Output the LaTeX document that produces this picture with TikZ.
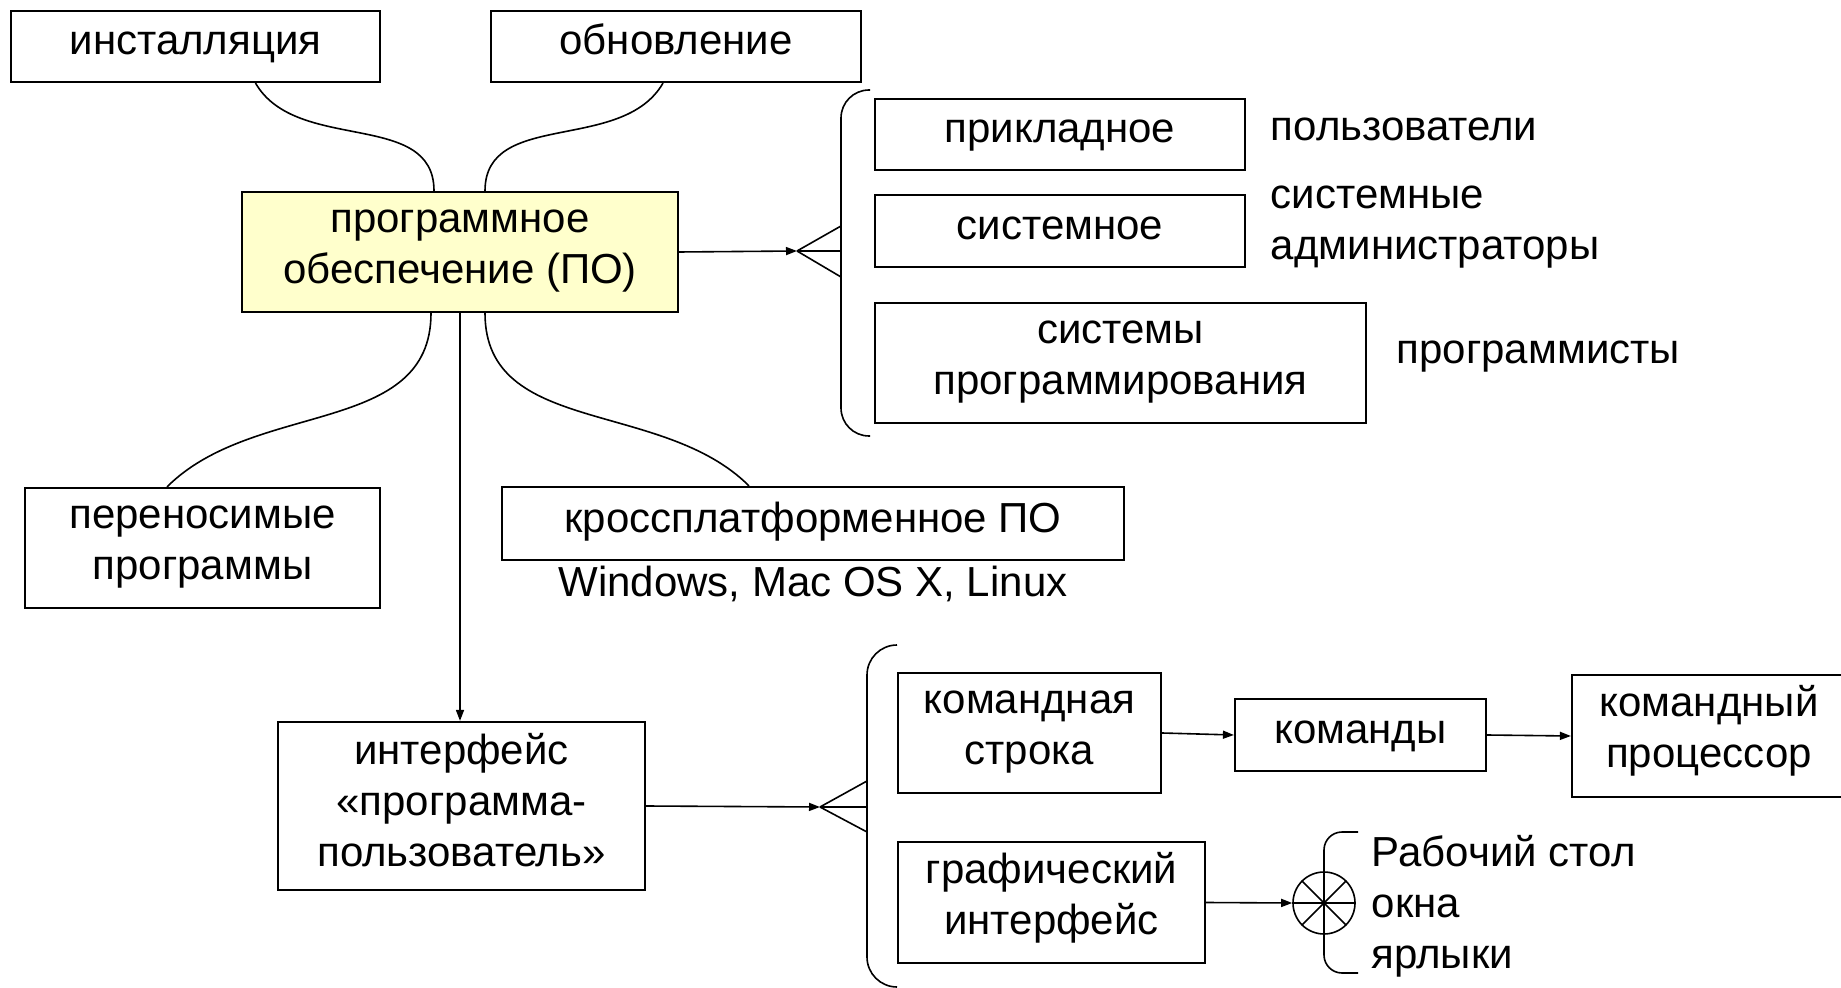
\documentclass[tikz,border=0pt]{standalone}
\usepackage{fontspec}
\setmainfont{Liberation Sans}
\usepackage{tikz}
\usetikzlibrary{arrows.meta}
\usetikzlibrary{positioning}

\begin{document}
\begin{tikzpicture}[x=0.5pt, y=0.5pt, line width=0.8pt,
    >={Triangle[length=5.5pt, width=4pt]},
    every node/.style={font=\fontsize{21pt}{25.5pt}\selectfont, inner sep=0pt},
    oneline/.style={text height=18pt, text depth=9.5pt},
    twolines/.style={text height=41pt, text depth=9.5pt},
    threelines/.style={text height=70pt, text depth=9.5pt},
    box/.style={draw, line width=1.1pt, align=center},
    note/.style={anchor=west, align=left}]
  \useasboundingbox (0,0) rectangle (1841,-988);

  \node[box, oneline, minimum width=184.5pt, minimum height=35.5pt] (inst) at (195.5,-46.5) {инсталляция};
  \node[box, oneline, minimum width=185pt, minimum height=35.5pt] (upd) at (676,-46.5) {обновление};
  \node[box, twolines, fill={rgb,255:red,255;green,255;blue,204}, minimum width=218pt, minimum height=60pt] (po) at (460,-252) {программное\\обеспечение (ПО)};

  \node[box, oneline, minimum width=185pt, minimum height=35.5pt] (appl) at (1060,-134.5) {прикладное};
  \node[box, oneline, minimum width=185pt, minimum height=36pt] (sys) at (1060,-231) {системное};
  \node[box, twolines, minimum width=245.5pt, minimum height=60pt] (prog) at (1120.5,-363) {системы\\программирования};
  \node[note, oneline] (users) at (1270,-132.5) {пользователи};
  \node[note, twolines] (admins) at (1270,-228) {системные\\администраторы};
  \node[note, oneline] (coders) at (1396,-355.5) {программисты};

  \node[box, twolines, minimum width=177.5pt, minimum height=60pt] (port) at (202.5,-548) {переносимые\\программы};
  \node[box, oneline, minimum width=311pt, minimum height=36.5pt] (cross) at (813,-523.5) {кроссплатформенное ПО};
  \node[oneline] (os) at (813,-588) {Windows, Mac OS X, Linux};

  \node[box, threelines, minimum width=183.5pt, minimum height=84pt] (ui) at (461.5,-806) {интерфейс\\«программа-\\пользователь»};
  \node[box, twolines, minimum width=131.5pt, minimum height=60pt] (cli) at (1029.5,-733) {командная\\строка};
  \node[box, oneline, minimum width=125.5pt, minimum height=36pt] (cmd) at (1360.5,-735) {команды};
  \node[box, twolines, minimum width=137pt, minimum height=61pt] (proc) at (1709,-736) {командный\\процессор};
  \node[box, twolines, minimum width=153.5pt, minimum height=60.5pt] (gui) at (1051.5,-902.5) {графический\\интерфейс};
  \node[draw, circle, minimum size=31pt] (hub) at (1324,-903) {};
  \node[note, threelines] (desk) at (1371,-907.5) {Рабочий стол\\окна\\ярлыки};

  % curved links round the central box
  \draw ([xshift=30pt]inst.south) to[out=-60, in=90] ([xshift=-13pt]po.north);
  \draw ([xshift=-6.5pt]upd.south) to[out=-120, in=90] ([xshift=12.5pt]po.north);
  \draw ([xshift=-14.5pt]po.south) to[out=-90, in=45] ([xshift=-17.75pt]port.north);
  \draw ([xshift=12.5pt]po.south) to[out=-90, in=135] ([xshift=-32pt]cross.north);
  \draw[->] (po.south) -- (po.south |- ui.north);

  % kinds of software
  \coordinate (fork1) at (797,-251);
  \draw[->] (po.east) -- (fork1);
  \draw (fork1) -- ++(44,25) (fork1) -- ++(44,0) (fork1) -- ++(44,-26);
  \draw[rounded corners=14pt] (870,-90) -- (841,-90) -- (841,-436) -- (870,-436);

  % kinds of interface
  \coordinate (fork2) at (820,-807);
  \draw[->] (ui.east) -- (fork2);
  \draw (fork2) -- ++(47,26) (fork2) -- ++(47,0) (fork2) -- ++(47,-25);
  \draw[rounded corners=15pt] (897,-645) -- (867,-645) -- (867,-987) -- (897,-987);

  \draw[->] (cli.east) -- (cmd.west);
  \draw[->] (cmd.east) -- (proc.west);
  \draw[->] (gui.east) -- (hub.west);
  \draw (hub.west) -- (hub.east) (hub.north west) -- (hub.south east) (hub.north east) -- (hub.south west);
  \draw[rounded corners=9pt] (1358,-832) -- (1324,-832) -- (1324,-973) -- (1358,-973);
\end{tikzpicture}
\end{document}
